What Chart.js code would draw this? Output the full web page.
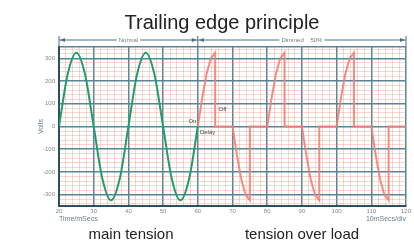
<!DOCTYPE html>
<html>
<head>
<meta charset="utf-8">
<script src="https://cdn.jsdelivr.net/npm/chart.js@4.4.0/dist/chart.umd.min.js"></script>
<style>
  html, body { margin: 0; padding: 0; background: #fff; }
  #wrap { width: 414px; height: 241px; }
</style>
</head>
<body>
<div id="wrap"><canvas id="edgeChart" width="414" height="241"></canvas></div>
<script>
  // mains voltage, ~325 V peak, 20 ms period
  const normalTime = [20, 22.5, 25, 27.5, 30, 32.5, 35, 37.5, 40, 42.5, 45, 47.5, 50, 52.5, 55, 57.5, 60];
  const normalVolts = [0, 230, 325, 230, 0, -230, -325, -230, 0, 230, 325, 230, 0, -230, -325, -230, 0];

  // trailing edge dimmer: follows the sine, then cut off to 0 at the peak
  const dimmedTime = [60, 61.25, 62.5, 63.75, 65, 65,
                      70, 71.25, 72.5, 73.75, 75, 75,
                      80, 81.25, 82.5, 83.75, 85, 85,
                      90, 91.25, 92.5, 93.75, 95, 95,
                      100, 101.25, 102.5, 103.75, 105, 105,
                      110, 111.25, 112.5, 113.75, 115, 115,
                      120];
  const dimmedVolts = [0, 124, 230, 300, 325, 0,
                       0, -124, -230, -300, -325, 0,
                       0, 124, 230, 300, 325, 0,
                       0, -124, -230, -300, -325, 0,
                       0, 124, 230, 300, 325, 0,
                       0, -124, -230, -300, -325, 0,
                       0];

  const xTicks = [20, 30, 40, 50, 60, 70, 80, 90, 100, 110, 120];
  const yTicks = [-300, -200, -100, 0, 100, 200, 300];
  const phaseLabels = ['Normal', 'Dimmed    50%'];
  const captions = ['main tension', 'tension over load'];

  const majorColor = '#5b8595';
  const minorColor = 'rgba(236, 140, 122, 0.35)';
  const FONT = '"Liberation Sans", Arial, sans-serif';

  // gridlines every `step`, plus both ends of the axis
  function buildGrid(scale, step) {
    const ticks = [{ value: scale.min }];
    for (let v = Math.floor(scale.min / step) * step + step; v < scale.max - 1e-9; v += step) {
      ticks.push({ value: Math.round(v * 100) / 100 });
    }
    ticks.push({ value: scale.max });
    scale.ticks = ticks;
  }

  const decorations = {
    id: 'decorations',
    afterDraw(chart) {
      const c = chart.ctx;
      const xs = chart.scales.x, ys = chart.scales.y;
      c.save();

      // title
      c.fillStyle = '#222';
      c.font = '20px ' + FONT;
      c.textAlign = 'center';
      c.textBaseline = 'alphabetic';
      c.fillText('Trailing edge principle', 222, 29);

      // phase arrows above the plot
      const ay = 40;
      const x0 = xs.getPixelForValue(20), x1 = xs.getPixelForValue(60), x2 = xs.getPixelForValue(120);
      c.strokeStyle = '#4d7282';
      c.fillStyle = '#4d7282';
      c.lineWidth = 1;
      c.beginPath();
      c.moveTo(x0, ay); c.lineTo(x2, ay);
      [x0, x1, x2].forEach(px => { c.moveTo(px, ay - 4); c.lineTo(px, chart.chartArea.top); });
      c.stroke();
      const head = (px, dir) => {
        c.beginPath();
        c.moveTo(px, ay);
        c.lineTo(px + dir * 5, ay - 2);
        c.lineTo(px + dir * 5, ay + 2);
        c.closePath();
        c.fill();
      };
      head(x0 + 1, 1); head(x1 - 1, -1); head(x1 + 1, 1); head(x2 - 1, -1);

      c.font = '6px ' + FONT;
      c.textBaseline = 'middle';
      c.textAlign = 'center';
      [[phaseLabels[0], (x0 + x1) / 2], [phaseLabels[1], (x1 + x2) / 2]].forEach(([t, px]) => {
        const w = c.measureText(t).width + 4;
        c.fillStyle = '#fff';
        c.fillRect(px - w / 2, ay - 3, w, 6);
        c.fillStyle = '#6a7f88';
        c.fillText(t, px, ay);
      });

      // switching markers
      c.fillStyle = '#444';
      c.textAlign = 'right';
      c.fillText('On', xs.getPixelForValue(59.6), ys.getPixelForValue(24));
      c.textAlign = 'left';
      c.fillText('Off', xs.getPixelForValue(66), ys.getPixelForValue(75));
      c.fillText('Delay', xs.getPixelForValue(60.6), ys.getPixelForValue(-24));

      // axis titles
      c.fillStyle = '#6a7f88';
      c.font = '7px ' + FONT;
      c.textAlign = 'left';
      c.fillText('Time/mSecs', xs.left, 219);
      c.textAlign = 'right';
      c.fillText('10mSecs/div', xs.right, 219);
      c.save();
      c.translate(41, ys.getPixelForValue(0));
      c.rotate(-Math.PI / 2);
      c.textAlign = 'center';
      c.fillText('Volts', 0, 0);
      c.restore();

      // captions
      c.fillStyle = '#222';
      c.font = '15px ' + FONT;
      c.textAlign = 'center';
      c.textBaseline = 'alphabetic';
      c.fillText(captions[0], 131, 239);
      c.fillText(captions[1], 302, 239);
      c.restore();
    }
  };

  const isMajorX = v => v % 10 === 0;
  const isMajorY = v => v % 100 === 0 || Math.abs(v) === 350;

  const ctx = document.getElementById('edgeChart').getContext('2d');
  new Chart(ctx, {
    type: 'scatter',
    data: {
      datasets: [{
        data: normalTime.map((t, i) => ({ x: t, y: normalVolts[i] })),
        showLine: true,
        borderColor: '#1f9d70',
        borderWidth: 2,
        pointRadius: 0,
        cubicInterpolationMode: 'monotone'
      }, {
        data: dimmedTime.map((t, i) => ({ x: t, y: dimmedVolts[i] })),
        showLine: true,
        borderColor: 'rgba(242, 128, 116, 0.9)',
        borderWidth: 2,
        pointRadius: 0,
        tension: 0
      }]
    },
    options: {
      responsive: false,
      animation: false,
      layout: { padding: { top: 47, right: 8, left: 0, bottom: 0 } },
      plugins: {
        legend: { display: false },
        tooltip: { enabled: false }
      },
      scales: {
        x: {
          type: 'linear',
          min: 20,
          max: 120,
          afterBuildTicks: s => buildGrid(s, 2),
          afterFit: s => { s.height = 35; },
          border: { color: '#2f4f5c', width: 2 },
          grid: {
            drawTicks: false,
            color: ctx => (isMajorX(ctx.tick.value) ? majorColor : minorColor),
            lineWidth: ctx => (isMajorX(ctx.tick.value) ? 1.5 : 1)
          },
          ticks: {
            autoSkip: false,
            maxRotation: 0,
            padding: 2,
            color: '#888',
            font: { size: 6, family: FONT },
            callback: v => (xTicks.includes(v) ? String(v) : '')
          }
        },
        y: {
          min: -350,
          max: 350,
          afterBuildTicks: s => buildGrid(s, 20),
          afterFit: s => { s.width = 59; },
          border: { color: '#2f4f5c', width: 2 },
          grid: {
            drawTicks: false,
            color: ctx => (isMajorY(ctx.tick.value) ? majorColor : minorColor),
            lineWidth: ctx => (isMajorY(ctx.tick.value) ? 1.5 : 1)
          },
          ticks: {
            autoSkip: false,
            padding: 4,
            color: '#888',
            font: { size: 6, family: FONT },
            callback: v => (yTicks.includes(v) ? String(v) : '')
          }
        }
      }
    },
    plugins: [decorations]
  });
</script>
</body>
</html>
